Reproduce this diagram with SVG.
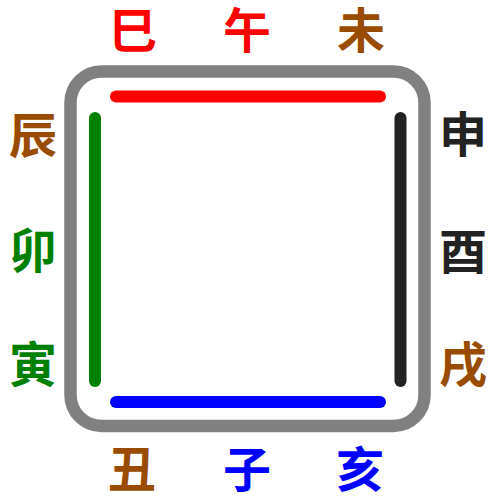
<svg xmlns="http://www.w3.org/2000/svg" width="493" height="501" viewBox="0 0 493 501">
<style>
text{font-family:"Noto Sans CJK SC","Noto Sans CJK JP",sans-serif;font-weight:bold;font-size:48px;text-anchor:middle}
.line{fill:none;stroke-width:12;stroke-linecap:round}
.r{fill:#FF0000}.b{fill:#0000FF}.g{fill:#008000}.k{fill:#222222}.o{fill:#994C00}
</style>
<rect x="0" y="0" width="493" height="501" fill="#FFFFFF"/>
<g id="frame">
<rect x="70.5" y="71.5" width="354" height="354.5" rx="31" ry="31" fill="none" stroke="#808080" stroke-width="12.5"/>
</g>
<g id="connectors">
<line class="line" x1="116" y1="96.5" x2="380" y2="96.5" stroke="#FF0000"/>
<line class="line" x1="95" y1="118" x2="95" y2="381" stroke="#008000"/>
<line class="line" x1="400.5" y1="118" x2="400.5" y2="381" stroke="#222222"/>
<line class="line" x1="116" y1="402" x2="380" y2="402" stroke="#0000FF"/>
</g>
<g id="si"><text class="r" x="133" y="48">巳</text></g>
<g id="wu"><text class="r" x="247" y="48">午</text></g>
<g id="wei"><text class="o" x="361" y="48">未</text></g>
<g id="chen"><text class="o" x="33" y="153">辰</text></g>
<g id="mao"><text class="g" x="33" y="268">卯</text></g>
<g id="yin"><text class="g" x="33" y="382">寅</text></g>
<g id="shen"><text class="k" x="463" y="152">申</text></g>
<g id="you"><text class="k" x="463" y="269">酉</text></g>
<g id="xu"><text class="o" x="463" y="382">戌</text></g>
<g id="chou"><text class="o" x="132" y="487">丑</text></g>
<g id="zi"><text class="b" x="247" y="487">子</text></g>
<g id="hai"><text class="b" x="360" y="487">亥</text></g>
</svg>
